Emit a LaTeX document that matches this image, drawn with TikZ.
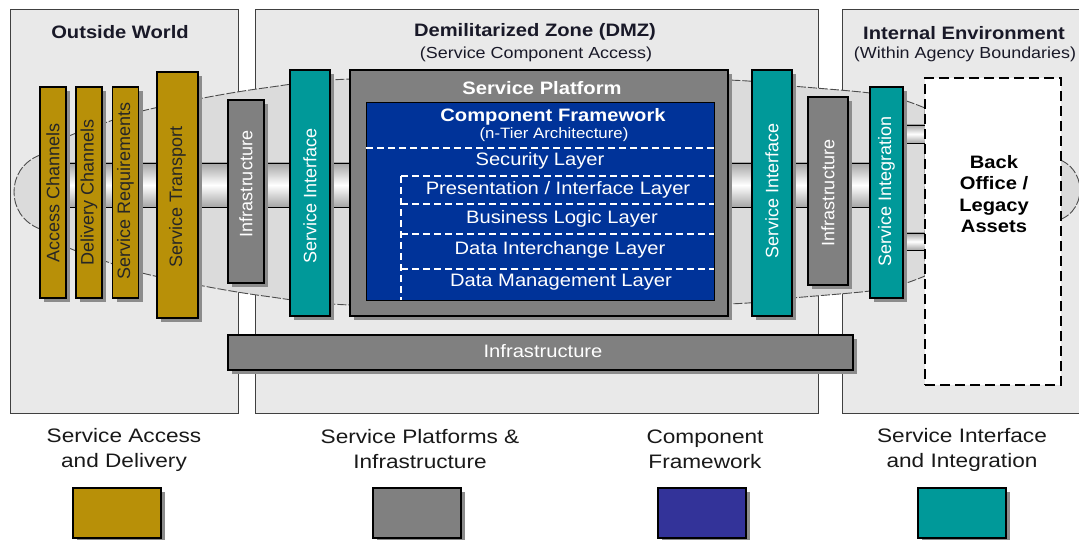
\documentclass[tikz,border=0pt]{standalone}
\usepackage{fontspec}
\setmainfont{Liberation Sans}
\newfontfamily\wf[FakeStretch=1.12]{Liberation Sans}
\newfontfamily\lf[FakeStretch=1.16]{Liberation Sans}
\usetikzlibrary{shadows}
\definecolor{gold}{RGB}{184,144,8}
\definecolor{midgray}{RGB}{128,128,128}
\definecolor{cfblue}{RGB}{0,51,153}
\definecolor{legblue}{RGB}{51,51,153}
\definecolor{teal}{RGB}{0,153,153}
\definecolor{panelbg}{RGB}{233,233,233}
\definecolor{hullbg}{RGB}{219,219,219}
\definecolor{inkdark}{RGB}{25,25,40}
\begin{document}
\begin{tikzpicture}[x=1pt,y=-1pt,
  panel/.style={draw=black!75, line width=1pt, fill=panelbg},
  hull/.style={draw=black!70, line width=0.9pt, dash pattern=on 9pt off 2pt, fill=hullbg},
  tubeline/.style={draw=black, line width=0.9pt},
  bar/.style={draw=black, line width=1.2pt, inner sep=0pt, outer sep=0pt,
    drop shadow={shadow xshift=4pt, shadow yshift=-4pt, fill=black!45, opacity=1}},
  vlabel/.style={rotate=90, inner sep=0pt, font=\fontsize{18}{18}\selectfont},
  title/.style={text=inkdark, inner sep=0pt, font=\wf\bfseries\fontsize{18}{21}\selectfont},
  subtitle/.style={text=inkdark, inner sep=0pt, font=\wf\fontsize{16}{19}\selectfont},
  layertext/.style={text=white, inner sep=0pt, font=\wf\fontsize{18}{21}\selectfont},
  layerline/.style={draw=white, line width=2pt, dash pattern=on 7pt off 4pt},
  legtext/.style={text=black!90, align=center, inner sep=0pt, font=\lf\fontsize{19.5}{25}\selectfont},
  legbox/.style={bar, minimum width=88pt, minimum height=50pt}
]
\useasboundingbox (0,0) rectangle (1079,540);
\fill[white] (0,0) rectangle (1079,540);

% three zones
\draw[panel] (10,10) rectangle (238,413);
\draw[panel] (255,10) rectangle (818,413);
\draw[panel] (842,10) rectangle (1095,413);

% lens-shaped service envelope
\filldraw[hull] plot[smooth, tension=0.55] coordinates {(40,155) (67,137) (102,124) (138,112) (198,99) (264,88) (350,79) (540,77) (728,80) (792,86) (870,93) (903,100) (925,108)}
  -- plot[smooth, tension=0.55] coordinates {(925,276) (903,284) (870,291) (792,298) (728,304) (540,307) (350,305) (264,296) (198,285) (138,272) (102,260) (67,247) (40,229)}
  .. controls (22,222) and (14,207) .. (14,192) .. controls (14,177) and (22,162) .. (40,155) -- cycle;
\filldraw[hull] (1050,157) .. controls (1070,160) and (1080,175) .. (1080,190)
  .. controls (1080,205) and (1070,220) .. (1050,222) -- cycle;

% central pipe
\shade[top color=black!35, bottom color=black!35, middle color=white] (60,163) rectangle (880,207);
\draw[tubeline] (60,163) -- (880,163) (60,207) -- (880,207);
\shade[top color=black!35, bottom color=black!35, middle color=white] (895,125) rectangle (926,143);
\draw[tubeline] (895,125) -- (926,125) (895,143) -- (926,143);
\shade[top color=black!35, bottom color=black!35, middle color=white] (895,233) rectangle (926,250);
\draw[tubeline] (895,233) -- (926,233) (895,250) -- (926,250);

% outside world bars
\node[bar, fill=gold, minimum width=26pt, minimum height=211pt] (acbar) at (53,192.5) {};
\node[bar, fill=gold, minimum width=26pt, minimum height=211pt] (dcbar) at (89,192.5) {};
\node[bar, fill=gold, minimum width=26pt, minimum height=211pt] (srbar) at (125.5,192.5) {};
\node[bar, fill=gold, minimum width=41pt, minimum height=246pt] (stbar) at (177.5,195) {};
\node[vlabel, text=black!85] (aclab) at (53,193) {Access Channels};
\node[vlabel, text=black!85] (dclab) at (89,192) {Delivery Channels};
\node[vlabel, text=black!85] (srlab) at (125.5,191) {Service Requirements};
\node[vlabel, text=black!85] (stlab) at (177.5,197) {Service Transport};

% DMZ bars
\node[bar, fill=midgray, minimum width=36pt, minimum height=183pt] (infl) at (246,191.5) {};
\node[vlabel, text=white] (infllab) at (246,184) {Infrastructure};
\node[bar, fill=teal, minimum width=40pt, minimum height=246pt] (sil) at (310,193) {};
\node[vlabel, text=white] (sillab) at (310,196) {Service Interface};

% service platform with component framework
\node[bar, fill=midgray, minimum width=378pt, minimum height=246pt] (sp) at (539,193) {};
\node[title, text=white] (sptitle) at (542,88) {Service Platform};
\node[draw=black, line width=1pt, fill=cfblue, minimum width=348pt, minimum height=197pt, inner sep=0pt] (cf) at (540,201.5) {};
\node[title, text=white] (cftitle) at (553,117) {Component Framework};
\node[text=white, inner sep=0pt, font=\wf\fontsize{15}{18}\selectfont] (cfsub) at (554,135) {(n-Tier Architecture)};
\draw[layerline] (366,148) -- (714,148);
\draw[layerline] (401,176) -- (714,176);
\draw[layerline] (401,204) -- (714,204);
\draw[layerline] (401,234) -- (714,234);
\draw[layerline] (401,269) -- (714,269);
\draw[layerline] (401,176) -- (401,300);
\node[layertext] (lsec) at (540,161) {Security Layer};
\node[layertext] (lpres) at (558,190) {Presentation / Interface Layer};
\node[layertext] (lbus) at (562,219) {Business Logic Layer};
\node[layertext] (ldat) at (560,250) {Data Interchange Layer};
\node[layertext] (lman) at (561,282) {Data Management Layer};

\node[bar, fill=teal, minimum width=40pt, minimum height=246pt] (sir) at (772,193) {};
\node[vlabel, text=white] (sirlab) at (772,191) {Service Interface};
\node[bar, fill=midgray, minimum width=40pt, minimum height=188pt] (infr) at (828,191) {};
\node[vlabel, text=white] (infrlab) at (828,193) {Infrastructure};

% shared infrastructure
\node[bar, fill=midgray, minimum width=625pt, minimum height=35pt] (infb) at (540.5,352.5) {};
\node[layertext] (infblab) at (543,351) {Infrastructure};

% internal environment
\node[bar, fill=teal, minimum width=33pt, minimum height=211pt] (sint) at (886.5,192.5) {};
\node[vlabel, text=white] (sintlab) at (886.5,191) {Service Integration};
\node[draw=black, line width=2.5pt, dash pattern=on 10pt off 5pt, fill=white, minimum width=136pt, minimum height=307pt, inner sep=0pt] (bo) at (993,231.5) {};
\node[title, text=black, align=center, font=\wf\bfseries\fontsize{18}{21.5}\selectfont] (botxt) at (994,194) {Back\\Office /\\Legacy\\Assets};

% zone titles
\node[title] (owtitle) at (120,32) {Outside World};
\node[title] (dmztitle) at (535,32) {Demilitarized Zone (DMZ)};
\node[subtitle] (dmzsub) at (536,54) {(Service Component Access)};
\node[title] (ietitle) at (964,33) {Internal Environment};
\node[subtitle] (iesub) at (965,54) {(Within Agency Boundaries)};

% legend
\node[legtext] (lt1) at (124,449.5) {Service Access\\and Delivery};
\node[legtext] (lt2) at (420,449.5) {Service Platforms \&\\Infrastructure};
\node[legtext] (lt3) at (705,449.5) {Component\\Framework};
\node[legtext] (lt4) at (962,449.5) {Service Interface\\and Integration};
\node[legbox, fill=gold] (lb1) at (117,513) {};
\node[legbox, fill=midgray] (lb2) at (417,513) {};
\node[legbox, fill=legblue] (lb3) at (702,513) {};
\node[legbox, fill=teal] (lb4) at (962,513) {};
\end{tikzpicture}
\end{document}
